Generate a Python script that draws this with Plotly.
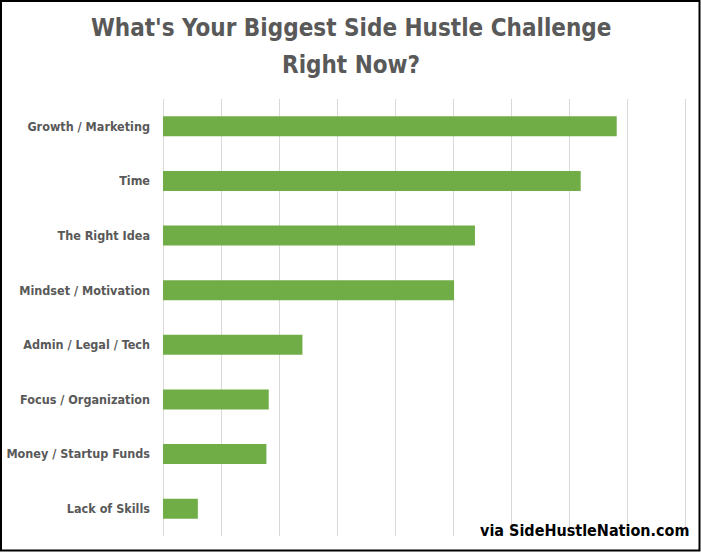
from plotly import graph_objects as go

# Survey answers, top to bottom as drawn
challenges = [
  'Growth / Marketing',
  'Time',
  'The Right Idea',
  'Mindset / Motivation',
  'Admin / Legal / Tech',
  'Focus / Organization',
  'Money / Startup Funds',
  'Lack of Skills',
]
responses = [7.81, 7.19, 5.37, 5.01, 2.40, 1.82, 1.78, 0.60]

title_lines = ["What's Your Biggest Side Hustle Challenge", 'Right Now?']
credit_text = 'via SideHustleNation.com'

W, H = 701, 552
ML, MR, MT, MB = 163, 14, 99, 16
PW, PH = W - ML - MR, H - MT - MB

narrow = '"DejaVu Sans Condensed", "DejaVu Sans", sans-serif'


def px_x(px):
  """pixel column -> paper x"""
  return (px - ML) / PW


def px_y(py):
  """pixel row (from top) -> paper y"""
  return (H - MB - py) / PH


fig = go.Figure()

fig.add_trace(
  go.Bar(
    x=responses,
    y=challenges,
    orientation='h',
    marker=dict(color='#70AD47', line=dict(width=0)),
    hoverinfo='x+y',
  )
)

layout = go.Layout(
  width=W,
  height=H,
  margin=dict(l=ML, r=MR, t=MT, b=MB, autoexpand=False),
  paper_bgcolor='white',
  plot_bgcolor='white',
  showlegend=False,
  bargap=0.634,
  xaxis=dict(
    # a hair past 9 so the last gridline is still drawn
    range=[0, 9.02],
    dtick=1,
    showticklabels=False,
    showgrid=True,
    gridcolor='#D9D9D9',
    gridwidth=1,
    zeroline=True,
    zerolinecolor='#D9D9D9',
    zerolinewidth=1,
    showline=False,
    fixedrange=True,
    automargin=False,
  ),
  yaxis=dict(
    autorange='reversed',
    showgrid=False,
    showline=False,
    ticks='',
    ticklabelstandoff=12,
    tickfont=dict(family=narrow, size=12.5, color='#595959', weight='bold'),
    fixedrange=True,
    automargin=False,
  ),
)
fig.update_layout(layout)

# Two-line title, placed line by line
for line, row in zip(title_lines, [28, 65]):
  fig.add_annotation(
    text=line,
    xref='paper', yref='paper',
    x=px_x(351), y=px_y(row),
    xanchor='center', yanchor='middle',
    showarrow=False,
    font=dict(family=narrow, size=24, color='#595959', weight='bold'),
  )

# Watermark in the bottom right corner
fig.add_annotation(
  text=credit_text,
  xref='paper', yref='paper',
  x=px_x(691), y=px_y(530),
  xanchor='right', yanchor='middle',
  showarrow=False,
  font=dict(family=narrow, size=16, color='black', weight='bold'),
)

# Thin dark frame round the whole picture
fig.add_shape(
  type='rect',
  xref='paper', yref='paper',
  x0=px_x(1), x1=px_x(W - 1.5),
  y0=px_y(H - 1.5), y1=px_y(1),
  line=dict(color='black', width=2),
  fillcolor='rgba(0,0,0,0)',
  layer='above',
)

# page body has a default 8px margin; drop it so the figure sits at 0,0
fig.write_html(
  'out.html',
  config={'displayModeBar': False},
  post_script="document.body.style.margin = '0';",
)
